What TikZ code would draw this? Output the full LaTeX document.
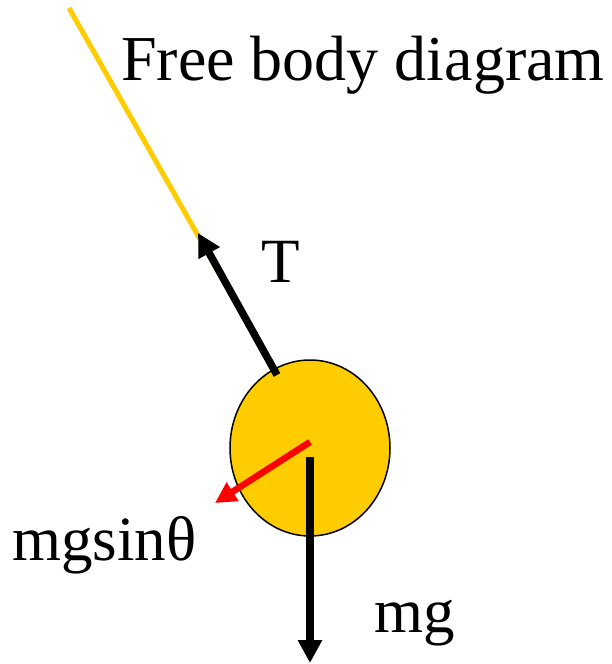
\documentclass[tikz,border=0pt]{standalone}
\usepackage{fontspec}
\setmainfont{Liberation Serif}
\usetikzlibrary{arrows.meta,shapes.geometric}
\definecolor{ballyellow}{HTML}{FFCC00}
\definecolor{forcered}{HTML}{FF0000}
\begin{document}
\begin{tikzpicture}[x=1pt,y=-1pt,
  lbl/.style={inner sep=0pt,anchor=base west,font=\fontsize{63}{63}\selectfont},
  stringline/.style={draw=ballyellow,line width=5pt},
  force/.style={line width=7.5pt,-{Triangle[length=23pt,width=23pt]}},
  redforce/.style={draw=forcered,line width=6.5pt,-{Triangle[length=21pt,width=21pt]}}]
\useasboundingbox (0,0) rectangle (611,664);
\coordinate (top) at (69,8);
\coordinate (ttail) at (277,375);
\coordinate (thead) at (198,233);
\coordinate (ctr) at (310,442);
\coordinate (rhead) at (215,503);
\coordinate (gtail) at (310,457);
\coordinate (ghead) at (310,663);
\draw[stringline] (top) -- (ttail);
\node[ellipse,draw=black,line width=1.5pt,fill=ballyellow,minimum width=160pt,minimum height=176pt,inner sep=0pt] (ball) at (310,448) {};
\draw[force] (ttail) -- (thead);
\draw[redforce] (ctr) -- (rhead);
\draw[force] (gtail) -- (ghead);
\node[lbl,font=\fontsize{64}{64}\selectfont] (title) at (121,80) {Free body diagram};
\node[lbl] (tlabel) at (261,282) {T};
\node[lbl] (rlabel) at (12,560) {mgsinθ};
\node[lbl] (glabel) at (374,632) {mg};
\end{tikzpicture}
\end{document}
